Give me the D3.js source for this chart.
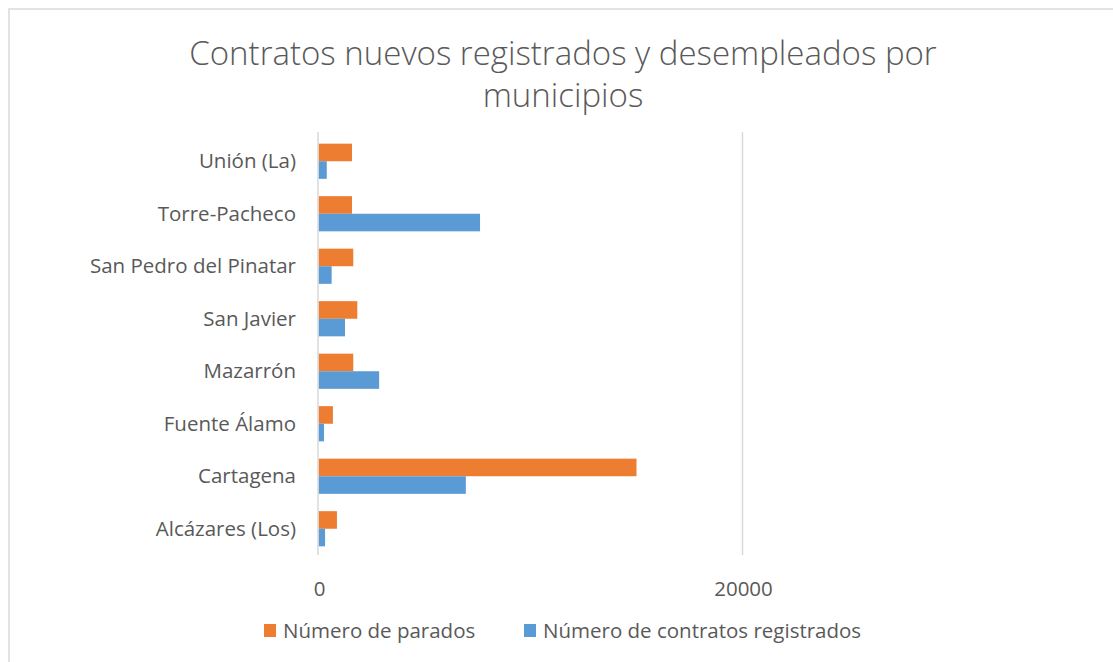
<!DOCTYPE html>
<html>
<head>
<meta charset="utf-8">
<script src="https://cdn.jsdelivr.net/npm/d3@7"></script>
<style>
    body { margin: 0; background: #fff; }
    svg { display: block; font-family: "Open Sans", sans-serif; }
</style>
</head>
<body>
<div id="chart"></div>
<script>
// Data (bottom to top in the original: Alcázares first)
const municipios = [
    "Unión (La)",
    "Torre-Pacheco",
    "San Pedro del Pinatar",
    "San Javier",
    "Mazarrón",
    "Fuente Álamo",
    "Cartagena",
    "Alcázares (Los)",
];
const parados = [1580, 1580, 1640, 1830, 1640, 680, 15000, 870];
const contratos = [390, 7620, 620, 1250, 2860, 260, 6950, 310];
const seriesNames = ["Número de parados", "Número de contratos registrados"];
const seriesColors = ["#ed7d31", "#5b9bd5"];
const xTicks = [0, 20000];

const width = 1113,
    height = 662,
    margin = { top: 135, right: 0, bottom: 107, left: 318.5 };

const svg = d3
    .select("#chart")
    .append("svg")
    .attr("width", width)
    .attr("height", height);

// chart frame (only left and top edges show in the picture)
svg.append("path")
    .attr("d", `M9,${height} V9 H${width}`)
    .attr("fill", "none")
    .attr("stroke", "#e3e3e3")
    .attr("stroke-width", 2);

// Title
svg.append("text")
    .attr("x", 563)
    .attr("text-anchor", "middle")
    .attr("fill", "#595959")
    .style("font-size", "33px")
    .style("font-weight", 300)
    .selectAll("tspan")
    .data(["Contratos nuevos registrados y desempleados por", "municipios"])
    .join("tspan")
    .attr("x", 563)
    .attr("y", (d, i) => 65 + i * 42)
    .text((d) => d);

const x = d3
    .scaleLinear()
    .domain([0, 20000])
    .range([margin.left, 742.5]);

const y = d3
    .scaleBand()
    .domain(municipios)
    .range([margin.top, height - margin.bottom])
    .paddingInner(0.33)
    .paddingOuter(0.165);

const sub = d3.scaleBand().domain([0, 1]).range([0, y.bandwidth()]);

// gridline at 20000
svg.append("g")
    .selectAll("line")
    .data(xTicks.filter((d) => d > 0))
    .join("line")
    .attr("x1", (d) => x(d))
    .attr("x2", (d) => x(d))
    .attr("y1", margin.top - 3)
    .attr("y2", height - margin.bottom)
    .attr("stroke", "#d9d9d9")
    .attr("stroke-width", 1.5);

// bars
const groups = svg
    .append("g")
    .selectAll("g")
    .data(municipios.map((m, i) => ({ m, vals: [parados[i], contratos[i]] })))
    .join("g")
    .attr("transform", (d) => `translate(0,${y(d.m)})`);

groups
    .selectAll("rect")
    .data((d) => d.vals)
    .join("rect")
    .attr("x", x(0))
    .attr("y", (d, i) => sub(i))
    .attr("width", (d) => x(d) - x(0))
    .attr("height", sub.bandwidth())
    .attr("fill", (d, i) => seriesColors[i]);

// vertical axis line
svg.append("line")
    .attr("x1", x(0) - 0.5)
    .attr("x2", x(0) - 0.5)
    .attr("y1", margin.top - 3)
    .attr("y2", height - margin.bottom)
    .attr("stroke", "#d9d9d9")
    .attr("stroke-width", 1.5);

// category labels
svg.append("g")
    .selectAll("text")
    .data(municipios)
    .join("text")
    .attr("x", 296)
    .attr("y", (d) => y(d) + y.bandwidth() / 2)
    .attr("dy", "0.35em")
    .attr("text-anchor", "end")
    .attr("fill", "#595959")
    .style("font-size", "20.5px")
    .text((d) => d);

// x tick labels
svg.append("g")
    .selectAll("text")
    .data(xTicks)
    .join("text")
    .attr("x", (d) => x(d) + 1)
    .attr("y", 596)
    .attr("text-anchor", "middle")
    .attr("fill", "#595959")
    .style("font-size", "20.5px")
    .text((d) => d);

// legend
const legendX = [264, 524];
const legend = svg
    .append("g")
    .selectAll("g")
    .data(seriesNames)
    .join("g")
    .attr("transform", (d, i) => `translate(${legendX[i]},624)`);

legend.append("rect")
    .attr("width", 12)
    .attr("height", 13)
    .attr("fill", (d, i) => seriesColors[i]);

legend.append("text")
    .attr("x", 19)
    .attr("y", 7)
    .attr("dy", "0.35em")
    .attr("fill", "#595959")
    .style("font-size", "20.5px")
    .text((d) => d);
</script>
</body>
</html>
